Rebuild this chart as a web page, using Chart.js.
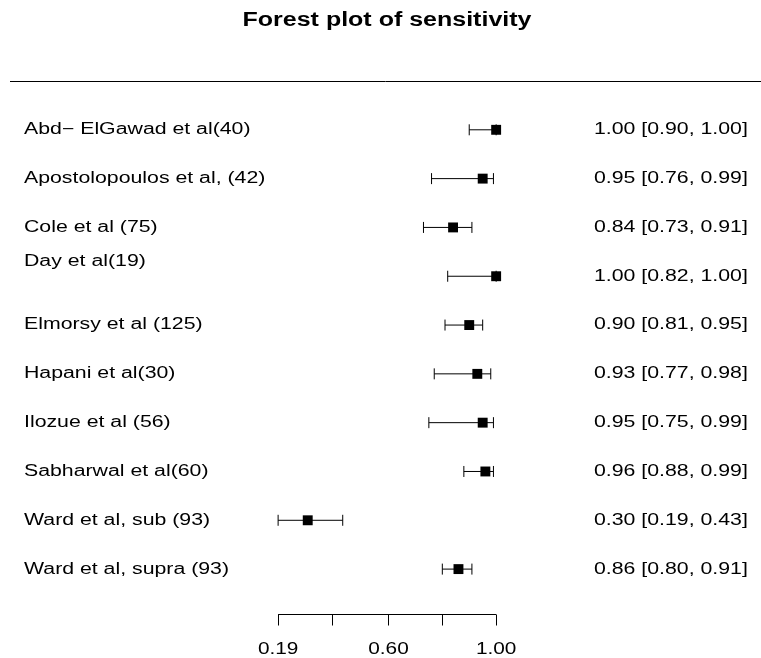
<!DOCTYPE html>
<html>
<head>
<meta charset="utf-8">
<script src="https://cdn.jsdelivr.net/npm/chart.js@4"></script>
<style>
  html, body { margin: 0; padding: 0; background: #fff; }
  #wrap { width: 761px; height: 658px; }
</style>
</head>
<body>
<div id="wrap"><canvas id="forestChart"></canvas></div>
<script>
const studies = ['Abd\u2212 ElGawad et al(40)', 'Apostolopoulos et al, (42)', 'Cole et al (75)', 'Day et al(19)\n',
  'Elmorsy et al (125)', 'Hapani et al(30)', 'Ilozue et al (56)', 'Sabharwal et al(60)',
  'Ward et al, sub (93)', 'Ward et al, supra (93)'];
const sens   = [1.00, 0.95, 0.84, 1.00, 0.90, 0.93, 0.95, 0.96, 0.30, 0.86];
const ciLow  = [0.90, 0.76, 0.73, 0.82, 0.81, 0.77, 0.75, 0.88, 0.19, 0.80];
const ciHigh = [1.00, 0.99, 0.91, 1.00, 0.95, 0.98, 0.99, 0.99, 0.43, 0.91];
const tickValues = [0.19, 0.39, 0.60, 0.80, 1.00];
const tickLabels = ['0.19', '', '0.60', '', '1.00'];
const chartTitle = 'Forest plot of sensitivity';

const FONT = '"Liberation Sans", Arial, Helvetica, sans-serif';

// the original image is stretched sideways, so text is widened a bit
function wideText(ctx, str, x, y, align, stretch) {
  ctx.save();
  ctx.translate(x, y);
  ctx.scale(stretch, 1);
  ctx.textAlign = align;
  ctx.fillText(str, 0, 0);
  ctx.restore();
}

const forestPlugin = {
  id: 'forest',
  beforeDatasetsDraw(chart) {
    const { ctx, scales: { x, y } } = chart;
    ctx.save();
    ctx.strokeStyle = '#000';
    ctx.lineWidth = 1;
    sens.forEach((v, i) => {
      const py = y.getPixelForValue(i);
      const x1 = x.getPixelForValue(ciLow[i]);
      const x2 = x.getPixelForValue(ciHigh[i]);
      ctx.beginPath();
      ctx.moveTo(x1, py); ctx.lineTo(x2, py);
      ctx.moveTo(x1, py - 5.5); ctx.lineTo(x1, py + 5.5);
      ctx.moveTo(x2, py - 5.5); ctx.lineTo(x2, py + 5.5);
      ctx.stroke();
    });
    ctx.restore();
  },
  afterDraw(chart) {
    const { ctx, chartArea, scales: { x, y } } = chart;
    ctx.save();
    ctx.fillStyle = '#000';
    ctx.strokeStyle = '#000';
    ctx.lineWidth = 1;

    // title
    ctx.font = 'bold 20px ' + FONT;
    ctx.textBaseline = 'alphabetic';
    wideText(ctx, chartTitle, 387, 26, 'center', 1.25);

    // rule under the header
    const ry = Math.round(y.getPixelForValue(-1)) + 0.5;
    ctx.beginPath();
    ctx.moveTo(10, ry);
    ctx.lineTo(chart.width, ry);
    ctx.stroke();

    // study labels and estimates
    ctx.font = '16px ' + FONT;
    ctx.textBaseline = 'middle';
    studies.forEach((name, i) => {
      const py = y.getPixelForValue(i);
      const lines = name.split('\n');
      const lh = 29;
      lines.forEach((ln, j) => {
        wideText(ctx, ln, 24, py - (lines.length - 1) * lh / 2 + j * lh, 'left', 1.33);
      });
      const txt = sens[i].toFixed(2) + ' [' + ciLow[i].toFixed(2) + ', ' + ciHigh[i].toFixed(2) + ']';
      wideText(ctx, txt, 594, py, 'left', 1.33);
    });

    // x axis
    const ay = Math.round(chartArea.bottom) + 0.5;
    const xa = x.getPixelForValue(tickValues[0]);
    const xb = x.getPixelForValue(tickValues[tickValues.length - 1]);
    ctx.beginPath();
    ctx.moveTo(xa, ay); ctx.lineTo(xb, ay);
    tickValues.forEach(t => {
      const px = Math.round(x.getPixelForValue(t)) + 0.5;
      ctx.moveTo(px, ay); ctx.lineTo(px, ay + 11);
    });
    ctx.stroke();
    ctx.textBaseline = 'alphabetic';
    tickValues.forEach((t, i) => {
      if (tickLabels[i]) wideText(ctx, tickLabels[i], x.getPixelForValue(t), ay + 39, 'center', 1.3);
    });
    ctx.restore();
  }
};

const ctx = document.getElementById('forestChart').getContext('2d');

const forestChart = new Chart(ctx, {
  type: 'scatter',
  data: {
    datasets: [{
      data: sens.map((v, i) => ({ x: v, y: i })),
      pointStyle: 'rect',
      pointRadius: 7,
      backgroundColor: '#000',
      borderColor: '#000',
      borderWidth: 0
    }]
  },
  options: {
    responsive: true,
    maintainAspectRatio: false,
    animation: false,
    events: [],
    layout: { padding: { top: 81, bottom: 44, left: 0, right: 0 } },
    scales: {
      x: { type: 'linear', display: false, min: -0.8173, max: 1.958 },
      y: { type: 'linear', display: false, reverse: true, min: -1, max: 9.92 }
    },
    plugins: {
      legend: { display: false },
      tooltip: { enabled: false }
    }
  },
  plugins: [forestPlugin]
});
</script>
</body>
</html>
